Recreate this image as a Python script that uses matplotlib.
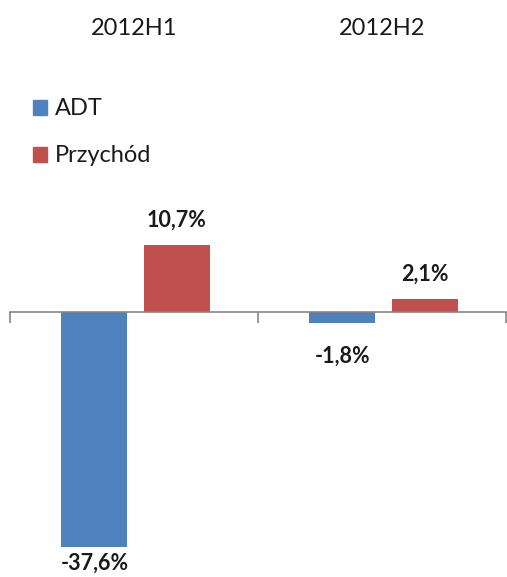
import matplotlib.pyplot as plt
from matplotlib.patches import Rectangle
from matplotlib import transforms

categories = ['2012H1', '2012H2']
series_names = ['ADT', 'Przychód']
adt = [-37.6, -1.8]
przychod = [10.7, 2.1]
labels_adt = ['-37,6%', '-1,8%']
labels_przychod = ['10,7%', '2,1%']
colors = ['#4F81BD', '#C0504D']

plt.rcParams['font.family'] = ['Lato', 'DejaVu Sans']

fig = plt.figure(figsize=(5.07, 5.77), dpi=100)
W, H = 507, 577
# axes placed in pixel terms: x 10..506, y from 180 (top) to 560 (bottom), zero at 312
top_px, bot_px, zero_px, ppu = 180, 560, 312, 6.25
ax = fig.add_axes([10 / W, 1 - bot_px / H, 496 / W, (bot_px - top_px) / H])
ax.set_xlim(-0.5, 1.5)
ax.set_ylim(-(bot_px - zero_px) / ppu, (zero_px - top_px) / ppu)

x = range(len(categories))
w = 0.265
b1 = ax.bar([i - 0.16 for i in x], adt, w, color=colors[0])
b2 = ax.bar([i + 0.173 for i in x], przychod, w, color=colors[1])

blend = transforms.blended_transform_factory(ax.transData, fig.transFigure)
for bars, labs in ((b1, labels_adt), (b2, labels_przychod)):
    for rect, lab in zip(bars, labs):
        v = rect.get_height()
        cx = rect.get_x() + rect.get_width() / 2
        end_px = zero_px - v * ppu
        if v >= 0:
            base_px = end_px - 18
        else:
            base_px = min(end_px + 39, 570)
        ax.text(cx, 1 - base_px / H, lab, transform=blend, ha='center', va='baseline',
                fontsize=15.5, fontweight='bold', color='#1a1a1a')

for s in ('top', 'right', 'left'):
    ax.spines[s].set_visible(False)
ax.spines['bottom'].set_position(('data', 0))
ax.spines['bottom'].set_color('#868686')
ax.spines['bottom'].set_linewidth(1.2)
ax.set_yticks([])
ax.set_xticks([-0.5, 0.5, 1.5])
ax.set_xticklabels([])
ax.tick_params(axis='x', direction='out', length=8, color='#868686', width=1.2)

for i, c in enumerate(categories):
    ax.text(i, 1 - 35 / H, c, transform=blend, ha='center', va='baseline',
            fontsize=17, color='#1a1a1a')

# legend
for j, name in enumerate(series_names):
    y_px = 107 + j * 47
    fig.patches.append(Rectangle((33 / W, 1 - (y_px + 8) / H), 14 / W, 15 / H,
                                 transform=fig.transFigure, color=colors[j]))
    fig.text(55 / W, 1 - (y_px + 8) / H, name, ha='left', va='baseline',
             fontsize=17, color='#1a1a1a')

fig.savefig('out.png', dpi=100)
